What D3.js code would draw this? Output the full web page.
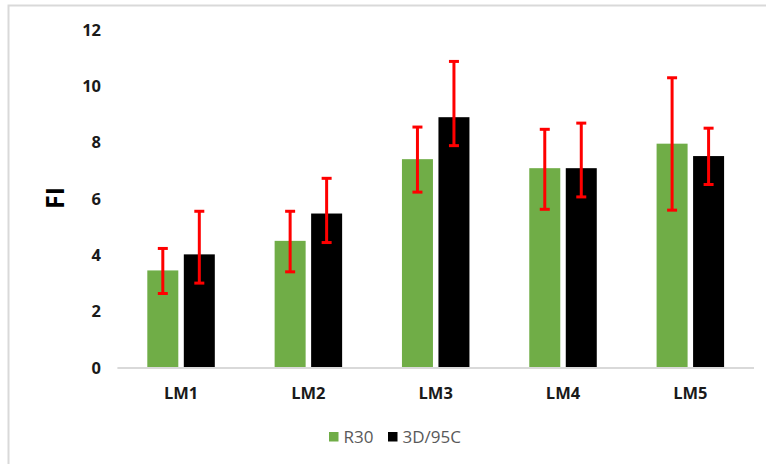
<!DOCTYPE html>
<html><head><meta charset="utf-8">
<script src="https://cdn.jsdelivr.net/npm/d3@7/dist/d3.min.js"></script>
<style>body{margin:0;background:#fff}svg{display:block}</style>
</head><body>
<svg id="chart" width="766" height="464"></svg>
<script>
const categories = ["LM1","LM2","LM3","LM4","LM5"];
const seriesNames = ["R30","3D/95C"];
const r30 = [3.45, 4.5, 7.4, 7.08, 7.95];
const d95c = [4.02, 5.47, 8.89, 7.08, 7.51];
const r30ErrHigh = [4.23, 5.55, 8.54, 8.46, 10.29];
const r30ErrLow = [2.63, 3.40, 6.23, 5.62, 5.59];
const d95cErrHigh = [5.55, 6.72, 10.87, 8.68, 8.50];
const d95cErrLow = [3.00, 4.44, 7.88, 6.06, 6.50];
const yTicks = [0,2,4,6,8,10,12];
const colors = ["#70AD47","#000000"];

(function(){
const svg = d3.select("#chart");
const font = "'Open Sans', 'Liberation Sans', sans-serif";

svg.append("rect").attr("x",8.5).attr("y",5.5).attr("width",800).attr("height",500)
  .attr("fill","#fff").attr("stroke","#d9d9d9").attr("stroke-width",2);

const pLeft = 117.4, pRight = 754, pTop = 29.6, pBottom = 367.6;
const x = d3.scaleBand().domain(categories).range([pLeft,pRight]);
const y = d3.scaleLinear().domain([0,12]).range([pBottom,pTop]);
const barW = 31, gap = 5.5;

svg.append("g").selectAll("text").data(yTicks).join("text")
  .attr("x",101).attr("y",d=>y(d)).attr("dy","0.36em").attr("text-anchor","end")
  .attr("font-family",font).attr("font-weight","bold").attr("font-size",16.5).attr("fill","#1a1a1a")
  .text(d=>d);

svg.append("text").attr("transform","translate(64,198) rotate(-90)")
  .attr("text-anchor","middle").attr("font-family",font).attr("font-weight","bold")
  .attr("font-size",25).attr("fill","#000").text("FI");

const series = [
  {vals:r30, hi:r30ErrHigh, lo:r30ErrLow, off:-(barW+gap)/2},
  {vals:d95c, hi:d95cErrHigh, lo:d95cErrLow, off:(barW+gap)/2}
];

series.forEach((s,si)=>{
  svg.append("g").selectAll("rect").data(categories).join("rect")
    .attr("x",(c)=>x(c)+x.bandwidth()/2+s.off-barW/2)
    .attr("y",(c,i)=>y(s.vals[i]))
    .attr("width",barW)
    .attr("height",(c,i)=>y(0)-y(s.vals[i]))
    .attr("fill",colors[si]);
});

svg.append("line").attr("x1",pLeft).attr("x2",pRight).attr("y1",y(0)+0.5).attr("y2",y(0)+0.5)
  .attr("stroke","#d9d9d9").attr("stroke-width",2);

series.forEach((s)=>{
  const g = svg.append("g");
  categories.forEach((c,i)=>{
    const cx = x(c)+x.bandwidth()/2+s.off;
    g.append("line").attr("x1",cx).attr("x2",cx).attr("y1",y(s.hi[i])).attr("y2",y(s.lo[i]))
      .attr("stroke","#ff0000").attr("stroke-width",3);
    [s.hi[i], s.lo[i]].forEach(v=>{
      g.append("line").attr("x1",cx-5).attr("x2",cx+5).attr("y1",y(v)).attr("y2",y(v))
        .attr("stroke","#ff0000").attr("stroke-width",3);
    });
  });
});

svg.append("g").selectAll("text").data(categories).join("text")
  .attr("x",c=>x(c)+x.bandwidth()/2).attr("y",393).attr("dy","0.36em").attr("text-anchor","middle")
  .attr("font-family",font).attr("font-weight","bold").attr("font-size",16.5).attr("fill","#1a1a1a")
  .text(c=>c);

const legX = [329, 388];
seriesNames.forEach((n,i)=>{
  svg.append("rect").attr("x",legX[i]).attr("y",432).attr("width",9.5).attr("height",9.5).attr("fill",colors[i]);
  svg.append("text").attr("x",legX[i]+14.5).attr("y",437).attr("dy","0.36em")
    .attr("font-family",font).attr("font-size",17).attr("fill","#595959").text(n);
});
})();
</script>
</body></html>
